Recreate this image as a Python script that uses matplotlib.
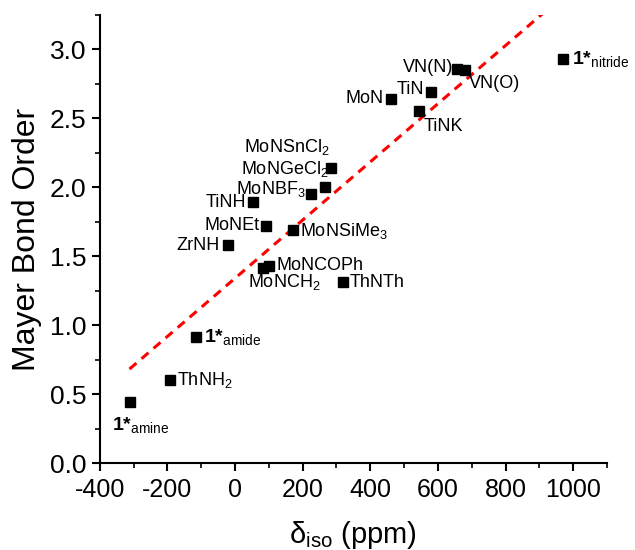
"""Mayer bond order vs. 15N isotropic shift scatter with linear trend."""
import matplotlib
matplotlib.use("Agg")
import matplotlib.pyplot as plt
from matplotlib.ticker import MultipleLocator

plt.rcParams["font.family"] = ["Liberation Sans", "DejaVu Sans"]
plt.rcParams["mathtext.fontset"] = "custom"
plt.rcParams["mathtext.rm"] = "Liberation Sans"
plt.rcParams["mathtext.it"] = "Liberation Sans:italic"
plt.rcParams["mathtext.bf"] = "Liberation Sans:bold"
plt.rcParams["axes.unicode_minus"] = False

# data
names = ["1amine", "ThNH2", "1amide", "ZrNH", "TiNH", "MoNEt", "MoNSiMe3",
         "MoNCH2", "MoNCOPh", "ThNTh", "MoNBF3", "MoNGeCl2", "MoNSnCl2",
         "MoN", "TiN", "TiNK", "VN(N)", "VN(O)", "1nitride"]
delta_iso = [-309, -193, -116, -21, 53, 92, 172, 83, 101, 318, 226, 265,
             285, 460, 579, 544, 657, 680, 971]
bond_order = [0.44, 0.60, 0.915, 1.58, 1.89, 1.72, 1.69, 1.415, 1.43, 1.31,
              1.95, 2.00, 2.14, 2.64, 2.69, 2.55, 2.86, 2.85, 2.93]
label_text = [r"1*$_{\mathrm{amine}}$", r"ThNH$_2$",
              r"1*$_{\mathrm{amide}}$", "ZrNH", "TiNH", "MoNEt",
              r"MoNSiMe$_3$", r"MoNCH$_2$", "MoNCOPh", "ThNTh", r"MoNBF$_3$",
              r"MoNGeCl$_2$", r"MoNSnCl$_2$", "MoN", "TiN", "TiNK", "VN(N)",
              "VN(O)", r"1*$_{\mathrm{nitride}}$"]
bold_labels = {"1amine", "1amide", "1nitride"}

# trend line (slope / intercept)
fit_slope = 0.00211
fit_intercept = 1.34
fit_x = [-312, 1100]

# label placement: (dx, dy in points, ha, va)
label_pos = {
    "1amine": (7, -16, "center", "center"),
    "ThNH2": (5, 0, "left", "center"),
    "1amide": (6, 0, "left", "center"),
    "ZrNH": (-6, 0, "right", "center"),
    "TiNH": (-5, 0, "right", "center"),
    "MoNEt": (-5, 0, "right", "center"),
    "MoNSiMe3": (5, -1, "left", "center"),
    "MoNCH2": (15, -10, "center", "center"),
    "MoNCOPh": (5, 0, "left", "center"),
    "ThNTh": (5, 0, "left", "center"),
    "MoNBF3": (-4, 4, "right", "center"),
    "MoNGeCl2": (3, 13.5, "right", "center"),
    "MoNSnCl2": (-1, 15, "right", "center"),
    "MoN": (-5, 0, "right", "center"),
    "TiN": (-5, 2, "right", "center"),
    "TiNK": (3, -11, "left", "center"),
    "VN(N)": (-3, 1, "right", "center"),
    "VN(O)": (3, -10, "left", "center"),
    "1nitride": (6, 0, "left", "center"),
}

fig = plt.figure(figsize=(6.35, 5.5), dpi=100)
ax = fig.add_axes([0.157, 0.158, 0.799, 0.815])

ax.plot(fit_x, [fit_intercept + fit_slope * x for x in fit_x],
        color="red", linestyle=(0, (3, 2.2)), linewidth=2.2, zorder=1)
ax.plot(delta_iso, bond_order, linestyle="none", marker="s",
        markersize=6.5, color="black", zorder=3)

for n, x, y, t in zip(names, delta_iso, bond_order, label_text):
    dx, dy, ha, va = label_pos[n]
    bold = n in bold_labels
    ax.annotate(t, (x, y), xytext=(dx, dy), textcoords="offset points",
                ha=ha, va=va, fontsize=14 if bold else 13,
                fontweight="bold" if bold else "normal")

ax.set_xlim(-400, 1100)
ax.set_ylim(0, 3.25)
ax.xaxis.set_major_locator(MultipleLocator(200))
ax.xaxis.set_minor_locator(MultipleLocator(100))
ax.yaxis.set_major_locator(MultipleLocator(0.5))
ax.yaxis.set_minor_locator(MultipleLocator(0.25))
ax.yaxis.set_major_formatter(lambda v, p: f"{v:.1f}")

for s in ("top", "right"):
    ax.spines[s].set_visible(False)
for s in ("left", "bottom"):
    ax.spines[s].set_linewidth(1.5)
ax.tick_params(which="major", length=6, width=1.5, labelsize=18)
ax.tick_params(which="minor", length=3.5, width=1.2)
ax.tick_params(axis="x", pad=5)
ax.tick_params(axis="y", labelsize=19)

ax.set_xlabel(r"δ$_{\mathrm{iso}}$ (ppm)", fontsize=21, labelpad=12)
ax.set_ylabel("Mayer Bond Order", fontsize=23, labelpad=6)

fig.savefig("out.png", dpi=100)
